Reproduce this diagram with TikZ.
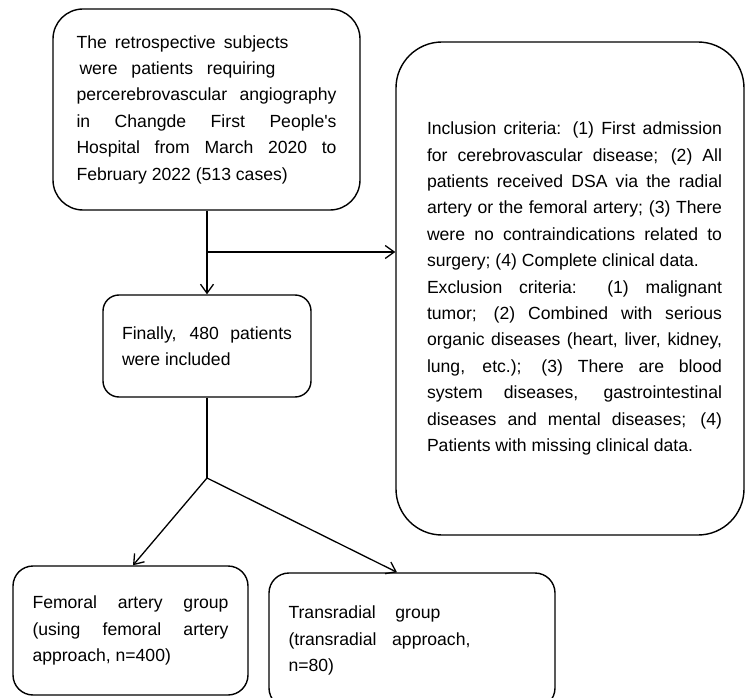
\documentclass[tikz,border=0pt]{standalone}
\usepackage{fontspec}
\setmainfont{Liberation Sans}[Ligatures=TeXOff]
\usetikzlibrary{arrows.meta,calc}
\newcommand\jl[1]{\makebox[\linewidth][s]{#1}}
\newcommand\boxtext[2]{\parbox{#1}{\fontsize{17.6}{26.4}\selectfont\parindent=0pt #2}}
\tikzset{
  flowbox/.style={draw, line width=1.4pt, inner sep=0pt, align=left},
  flowarrow/.style={line width=1.3pt, -{Straight Barb[length=9pt,width=13pt]}},
  flowline/.style={line width=1.3pt}
}
\begin{document}
\begin{tikzpicture}[x=1pt,y=-1pt]
\useasboundingbox (0,0) rectangle (745,698);
\clip (0,0) rectangle (745,698);

\node[flowbox, rounded corners=30pt, minimum width=307pt, minimum height=201pt] (top) at (206.5,109.5)
 {\boxtext{260pt}{\makebox[212pt][s]{The retrospective subjects}\\
 \hspace*{3pt}\makebox[196pt][s]{were patients requiring}\\
 \jl{percerebrovascular angiography}\\
 \jl{in Changde First People's}\\
 \jl{Hospital from March 2020 to}\\
 February 2022 (513 cases)}};

\node[flowbox, rounded corners=46pt, minimum width=348pt, minimum height=493pt] (crit) at (570,288.5)
 {\hspace*{9pt}\boxtext{295pt}{\jl{Inclusion criteria: (1) First admission}\\
 \jl{for cerebrovascular disease; (2) All}\\
 \jl{patients received DSA via the radial}\\
 \jl{artery or the femoral artery; (3) There}\\
 \jl{were no contraindications related to}\\
 surgery; (4) Complete clinical data.\\
 \jl{Exclusion criteria: (1) malignant}\\
 \jl{tumor; (2) Combined with serious}\\
 \jl{organic diseases (heart, liver, kidney,}\\
 \jl{lung, etc.); (3) There are blood}\\
 \jl{system diseases, gastrointestinal}\\
 \jl{diseases and mental diseases; (4)}\\
 Patients with missing clinical data.}};

\node[flowbox, rounded corners=16pt, minimum width=208pt, minimum height=102pt] (mid) at (207,346)
 {\boxtext{170pt}{\jl{Finally, 480 patients}\\
 were included}};

\node[flowbox, rounded corners=20pt, minimum width=235pt, minimum height=129pt] (fem) at (130.5,630.5)
 {\boxtext{196pt}{\jl{Femoral artery group}\\
 \jl{(using femoral artery}\\
 approach, n=400)}};

\node[flowbox, rounded corners=20pt, minimum width=286pt, minimum height=135pt] (tr) at (412,640.5)
 {\boxtext{247pt}{\makebox[152pt][s]{Transradial group}\\
 \makebox[182pt][s]{(transradial approach,}\\
 n=80)}};

\coordinate (split) at (207,252);
\coordinate (fork) at (207,478);

\draw[flowarrow] (top.south -| split) -- (split |- mid.north);
\draw[flowarrow] (split) -- (split -| crit.west);
\draw[flowline] (mid.south -| fork) -- (fork);
\draw[flowarrow] (fork) -- ([xshift=2.5pt]fem.north);
\draw[flowarrow] (fork) -- ([xshift=-15pt]tr.north);
\end{tikzpicture}
\end{document}
